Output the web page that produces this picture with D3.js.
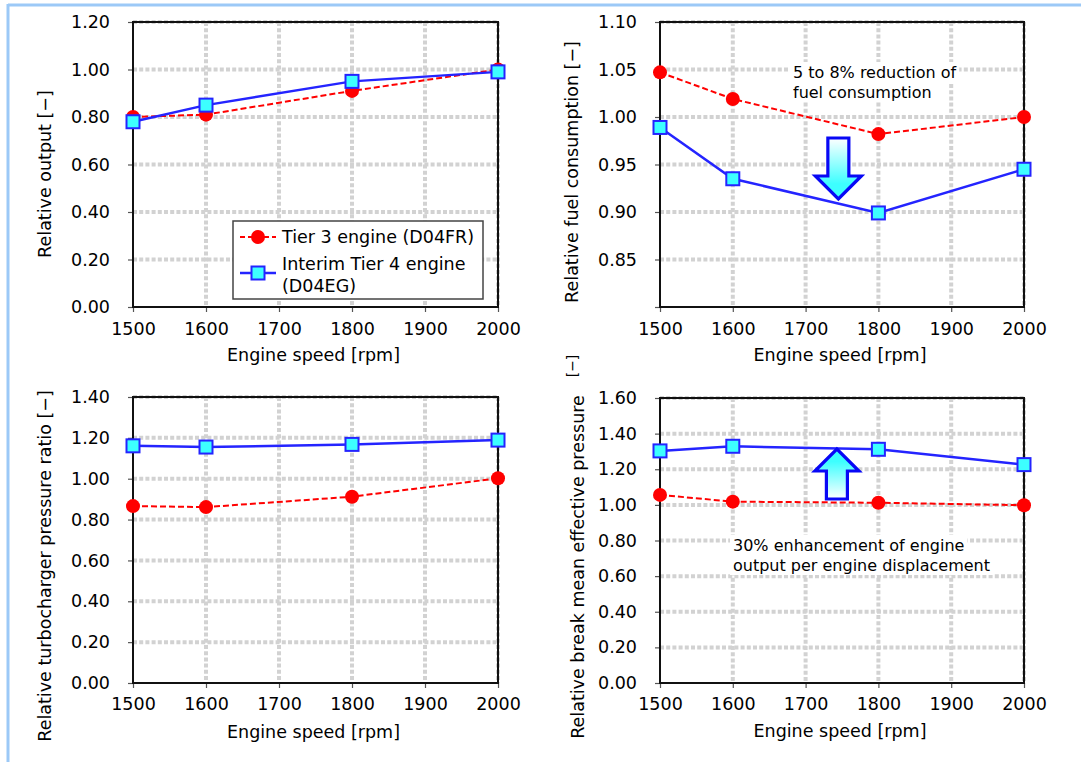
<!DOCTYPE html>
<html>
<head>
<meta charset="utf-8">
<script src="https://cdn.jsdelivr.net/npm/d3@7/dist/d3.min.js"></script>
<style>
  html, body { margin: 0; padding: 0; background: #fff; }
  svg { display: block; font-family: "DejaVu Sans", sans-serif; }
</style>
</head>
<body>
<svg id="chart" width="1081" height="762"></svg>
<script>
// ---------------- DATA ----------------
const speeds = [1500, 1600, 1800, 2000];
const xTickValues = [1500, 1600, 1700, 1800, 1900, 2000];
const seriesNames = ["Tier 3 engine (D04FR)", "Interim Tier 4 engine", "(D04EG)"];

const outputTier3 = [0.80, 0.81, 0.91, 1.00];
const outputTier4 = [0.78, 0.85, 0.95, 0.99];
const outputTicks = [0, 0.2, 0.4, 0.6, 0.8, 1.0, 1.2];

const fuelTier3 = [1.047, 1.019, 0.982, 1.000];
const fuelTier4 = [0.989, 0.935, 0.899, 0.945];
const fuelTicks = [0.80, 0.85, 0.90, 0.95, 1.00, 1.05, 1.10];

const turboTier3 = [0.866, 0.861, 0.912, 1.002];
const turboTier4 = [1.161, 1.155, 1.168, 1.189];
const turboTicks = [0, 0.2, 0.4, 0.6, 0.8, 1.0, 1.2, 1.4];

const bmepTier3 = [1.056, 1.018, 1.012, 0.998];
const bmepTier4 = [1.303, 1.329, 1.312, 1.226];
const bmepTicks = [0, 0.2, 0.4, 0.6, 0.8, 1.0, 1.2, 1.4, 1.6];

const yTitles = ["Relative output [\u2212]", "Relative fuel consumption [\u2212]",
                 "Relative turbocharger pressure ratio [\u2212]", "Relative break mean effective pressure"];
const xTitle = "Engine speed [rpm]";
const fuelNote = ["5 to 8% reduction of", "fuel consumption"];
const bmepNote = ["30% enhancement of engine", "output per engine displacement"];

// ---------------- LAYOUT ----------------
const svg = d3.select("#chart");
const FS = 17.5;
const RED = "#ff0000", BLUE = "#2424ff", CYAN = "#3dffff";

// outer light-blue frame
svg.append("line").attr("x1", 8).attr("x2", 1081).attr("y1", 5).attr("y2", 5)
   .attr("stroke", "#9cc9f7").attr("stroke-width", 3);
svg.append("line").attr("x1", 8).attr("x2", 8).attr("y1", 4).attr("y2", 762)
   .attr("stroke", "#9cc9f7").attr("stroke-width", 3);

const defs = svg.append("defs");
const gDown = defs.append("linearGradient").attr("id", "gradDown").attr("x1", 0).attr("y1", 0).attr("x2", 0).attr("y2", 1);
gDown.append("stop").attr("offset", "0%").attr("stop-color", "#ffffff");
gDown.append("stop").attr("offset", "75%").attr("stop-color", CYAN);
const gUp = defs.append("linearGradient").attr("id", "gradUp").attr("x1", 0).attr("y1", 1).attr("x2", 0).attr("y2", 0);
gUp.append("stop").attr("offset", "0%").attr("stop-color", "#ffffff");
gUp.append("stop").attr("offset", "75%").attr("stop-color", CYAN);

const panels = [
  { x0: 133, x1: 498, y0: 22, y1: 307, ticks: outputTicks, t3: outputTier3, t4: outputTier4,
    title: yTitles[0], titleX: 45, titleY: 174, xlabY: 329, xtitY: 355 },
  { x0: 660, x1: 1024, y0: 22, y1: 307, ticks: fuelTicks, t3: fuelTier3, t4: fuelTier4,
    title: yTitles[1], titleX: 572, titleY: 172, xlabY: 329, xtitY: 355, hideFirst: true },
  { x0: 133, x1: 498, y0: 397, y1: 683, ticks: turboTicks, t3: turboTier3, t4: turboTier4,
    title: yTitles[2], titleX: 45, titleY: 566, xlabY: 704, xtitY: 732 },
  { x0: 660, x1: 1024, y0: 398, y1: 683, ticks: bmepTicks, t3: bmepTier3, t4: bmepTier4,
    title: yTitles[3], titleX: 578, titleY: 567, xlabY: 704, xtitY: 731 }
];

panels.forEach((p, i) => {
  const x = d3.scaleLinear().domain([1500, 2000]).range([p.x0, p.x1]);
  const y = d3.scaleLinear().domain([p.ticks[0], p.ticks[p.ticks.length - 1]]).range([p.y1, p.y0]);
  p.x = x; p.y = y;
  const g = svg.append("g");

  // grid
  const grid = g.append("g").attr("stroke", "#d2d2d2").attr("stroke-width", 4).attr("stroke-dasharray", "4,2.2");
  grid.selectAll("line.h").data(p.ticks.slice(1)).join("line")
    .attr("x1", p.x0).attr("x2", p.x1).attr("y1", d => y(d)).attr("y2", d => y(d));
  grid.selectAll("line.v").data(xTickValues.slice(1)).join("line")
    .attr("y1", p.y0).attr("y2", p.y1).attr("x1", d => x(d)).attr("x2", d => x(d));

  // axes
  const yAxis = d3.axisLeft(y).tickValues(p.ticks).tickSize(5).tickPadding(18)
    .tickFormat((d, k) => (p.hideFirst && k === 0) ? "" : d3.format(".2f")(d));
  const ya = g.append("g").attr("transform", `translate(${p.x0},0)`).call(yAxis);
  ya.select(".domain").remove();
  ya.selectAll(".tick line").attr("stroke", "#555").attr("stroke-width", 1.2);
  ya.selectAll(".tick text").attr("font-size", FS).attr("fill", "#000").attr("font-family", "DejaVu Sans");

  const xAxis = d3.axisBottom(x).tickValues(xTickValues).tickSize(5).tickPadding(0).tickFormat(d3.format("d"));
  const xa = g.append("g").attr("transform", `translate(0,${p.y1})`).call(xAxis);
  xa.select(".domain").remove();
  xa.selectAll(".tick line").attr("stroke", "#555").attr("stroke-width", 1.2);
  xa.selectAll(".tick text").attr("font-size", FS).attr("fill", "#000").attr("font-family", "DejaVu Sans")
    .attr("y", p.xlabY - p.y1).attr("dy", "0.35em");

  // titles
  g.append("text").attr("transform", `translate(${p.titleX},${p.titleY}) rotate(-90)`)
    .attr("text-anchor", "middle").attr("dominant-baseline", "central").attr("font-size", FS).text(p.title);
  g.append("text").attr("x", (p.x0 + p.x1) / 2 - 2).attr("y", p.xtitY).attr("text-anchor", "middle")
    .attr("dominant-baseline", "central").attr("font-size", FS).text(xTitle);
});

// ---------------- ANNOTATIONS (white-backed text blocks, drawn over grid) ----------------
function note(lines, x0, y0, lh, fs) {
  const t = svg.append("text").attr("font-size", fs);
  lines.forEach((s, k) => {
    t.append("tspan").attr("x", x0).attr("y", y0 + k * lh).attr("dy", "0.35em").text(s);
  });
  t.selectAll("tspan").nodes().forEach((n, k) => {
    const w = n.getComputedTextLength();
    svg.insert("rect", function () { return t.node(); })
      .attr("x", x0 - 3).attr("y", y0 + k * lh - lh / 2).attr("width", w + 6).attr("height", lh)
      .attr("fill", "#fff");
  });
}
note(fuelNote, 793, 72, 20, 16);
note(bmepNote, 733, 545, 20, 16);

// frames + series drawn above grid/notes
panels.forEach(p => {
  const x = p.x, y = p.y;
  const g = svg.append("g");
  g.append("rect").attr("x", p.x0).attr("y", p.y0).attr("width", p.x1 - p.x0).attr("height", p.y1 - p.y0)
    .attr("fill", "none").attr("stroke", "#111").attr("stroke-width", 2);
  const line = d3.line().x((d, k) => x(speeds[k])).y(d => y(d));
  g.append("path").datum(p.t3).attr("d", line).attr("fill", "none").attr("stroke", RED)
    .attr("stroke-width", 2).attr("stroke-dasharray", "6,3");
  g.append("path").datum(p.t4).attr("d", line).attr("fill", "none").attr("stroke", BLUE)
    .attr("stroke-width", 2.5);
  g.selectAll("circle.t3").data(p.t3).join("circle")
    .attr("cx", (d, k) => x(speeds[k])).attr("cy", d => y(d)).attr("r", 7).attr("fill", RED);
  g.selectAll("rect.t4").data(p.t4).join("rect")
    .attr("x", (d, k) => x(speeds[k]) - 6.5).attr("y", d => y(d) - 6.5).attr("width", 13).attr("height", 13)
    .attr("fill", CYAN).attr("stroke", BLUE).attr("stroke-width", 2);
});

// ---------------- LEGEND (panel 1) ----------------
const lg = svg.append("g");
lg.append("rect").attr("x", 233).attr("y", 221).attr("width", 250).attr("height", 78)
  .attr("fill", "#fff").attr("stroke", "#444").attr("stroke-width", 1.5);
lg.append("line").attr("x1", 240).attr("x2", 276).attr("y1", 237).attr("y2", 237)
  .attr("stroke", RED).attr("stroke-width", 2).attr("stroke-dasharray", "5,3");
lg.append("circle").attr("cx", 258).attr("cy", 237).attr("r", 7).attr("fill", RED);
lg.append("line").attr("x1", 240).attr("x2", 276).attr("y1", 273).attr("y2", 273)
  .attr("stroke", BLUE).attr("stroke-width", 2.5);
lg.append("rect").attr("x", 251.5).attr("y", 266.5).attr("width", 13).attr("height", 13)
  .attr("fill", CYAN).attr("stroke", BLUE).attr("stroke-width", 2);
lg.append("text").attr("x", 282).attr("y", 237).attr("dy", "0.35em").attr("font-size", FS).text(seriesNames[0]);
const lt = lg.append("text").attr("font-size", FS);
lt.append("tspan").attr("x", 282).attr("y", 264).attr("dy", "0.35em").text(seriesNames[1]);
lt.append("tspan").attr("x", 282).attr("y", 286).attr("dy", "0.35em").text(seriesNames[2]);

// stray rotated "[−]" fragment
svg.append("text").attr("transform", "translate(572,366) rotate(-90)").attr("text-anchor", "middle")
  .attr("dominant-baseline", "central").attr("font-size", 14).text("[\u2212]");

// arrows (block arrows)
function blockArrow(cx, tail, headBase, tip, shaftHW, headHW, fill) {
  const pts = [[cx - shaftHW, tail], [cx + shaftHW, tail], [cx + shaftHW, headBase], [cx + headHW, headBase],
               [cx, tip], [cx - headHW, headBase], [cx - shaftHW, headBase]];
  svg.append("path").attr("d", d3.line()(pts) + "Z").attr("fill", fill)
    .attr("stroke", "#0808f5").attr("stroke-width", 3.2).attr("stroke-linejoin", "miter");
}
const p2 = panels[1], p4 = panels[3];
blockArrow(p2.x(1745), 138, 176, 199, 10.5, 23, "url(#gradDown)");
blockArrow(p4.x(1743), 499, 471, 449, 10.5, 22, "url(#gradUp)");
</script>
</body>
</html>
